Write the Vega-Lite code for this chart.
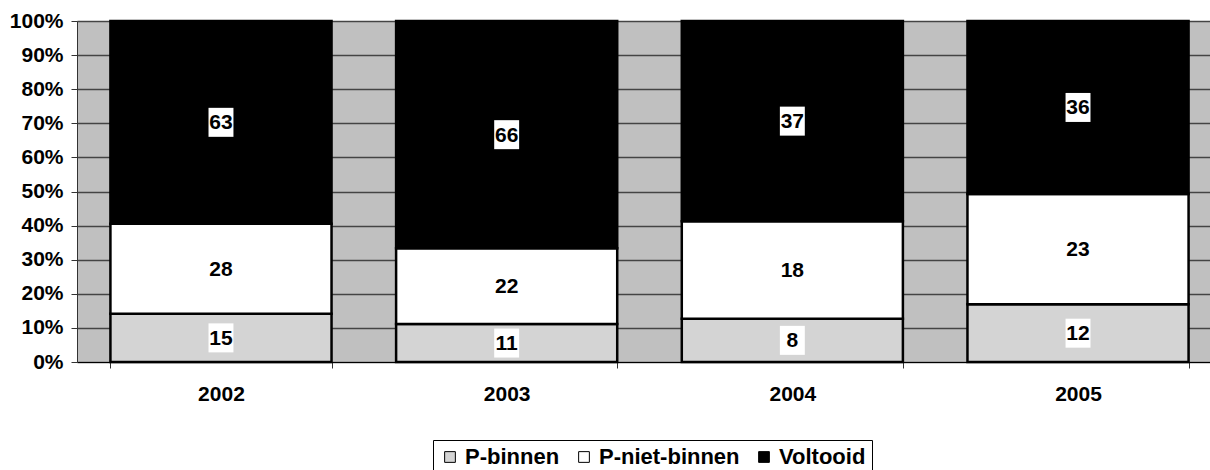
{
  "$schema": "https://vega.github.io/schema/vega-lite/v6.json",
  "autosize": "none",
  "width": 1133,
  "height": 341,
  "padding": {"left": 77, "top": 21, "right": 0, "bottom": 108},
  "background": "white",
  "config": {
    "view": {"fill": "#c0c0c0", "stroke": null},
    "font": "Liberation Sans"
  },
  "data": {
    "values": [
      {"year": "2002", "cat": "P-binnen", "v": 15},
      {"year": "2002", "cat": "P-niet-binnen", "v": 28},
      {"year": "2002", "cat": "Voltooid", "v": 63},
      {"year": "2003", "cat": "P-binnen", "v": 11},
      {"year": "2003", "cat": "P-niet-binnen", "v": 22},
      {"year": "2003", "cat": "Voltooid", "v": 66},
      {"year": "2004", "cat": "P-binnen", "v": 8},
      {"year": "2004", "cat": "P-niet-binnen", "v": 18},
      {"year": "2004", "cat": "Voltooid", "v": 37},
      {"year": "2005", "cat": "P-binnen", "v": 12},
      {"year": "2005", "cat": "P-niet-binnen", "v": 23},
      {"year": "2005", "cat": "Voltooid", "v": 36}
    ]
  },
  "transform": [
    {"stack": "v", "groupby": ["year"], "sort": [{"field": "cat", "order": "ascending"}], "offset": "normalize", "as": ["y0", "y1"]},
    {"calculate": "(datum.y0 + datum.y1) / 2", "as": "mid"}
  ],
  "encoding": {
    "x": {
      "field": "year", "type": "nominal",
      "scale": {"range": [0, 1145], "paddingInner": 0.226, "paddingOuter": 0.117},
      "axis": {"title": null, "labelAngle": 0, "labelFont": "Liberation Sans", "labelFontWeight": "bold", "labelColor": "black", "labelFontSize": 21, "labelPadding": 15, "tickBand": "extent", "tickSize": 6, "tickColor": "#333", "domainColor": "black", "domainWidth": 1, "grid": false}
    },
    "y": {
      "field": "mid", "type": "quantitative",
      "scale": {"domain": [0, 1], "nice": false, "zero": true},
      "axis": {"title": null, "format": ".0%", "values": [0,0.1,0.2,0.3,0.4,0.5,0.6,0.7,0.8,0.9,1], "labelOverlap": false, "labelFont": "Liberation Sans", "labelFontWeight": "bold", "labelColor": "black", "labelFontSize": 21, "labelPadding": 8, "tickSize": 6, "tickColor": "#333", "domainColor": "#333", "grid": true, "gridColor": "#444444", "gridOpacity": 1, "gridWidth": 1.5, "gridDash": [], "zindex": 0}
    }
  },
  "layer": [
    {
      "mark": {"type": "bar", "stroke": "black", "strokeWidth": 2.5},
      "encoding": {
        "y": {"field": "y0", "type": "quantitative"},
        "y2": {"field": "y1"},
        "color": {
          "field": "cat", "type": "nominal",
          "scale": {"domain": ["P-binnen", "P-niet-binnen", "Voltooid"], "range": ["#d4d4d4", "#ffffff", "#000000"]},
          "legend": {
            "title": null, "orient": "none", "legendX": 356, "legendY": 419, "direction": "horizontal",
            "strokeColor": "black", "padding": 6, "symbolType": "square", "symbolSize": 115,
            "symbolStrokeColor": "black", "symbolStrokeWidth": 1, "labelFontSize": 22, "labelFontWeight": "bold",
            "labelFont": "Liberation Sans", "labelColor": "black", "columnPadding": 13, "labelOffset": 4, "symbolOpacity": 1
          }
        }
      }
    },
    {
      "mark": {"type": "point", "shape": "M-0.86,-1H0.86V1H-0.86Z", "filled": true, "fill": "white", "opacity": 1, "size": 841, "strokeWidth": 0},
      "encoding": {}
    },
    {
      "mark": {"type": "text", "fontSize": 21, "fontWeight": "bold", "font": "Liberation Sans", "color": "black", "baseline": "middle", "dy": 1},
      "encoding": {
        "text": {"field": "v", "type": "quantitative"}
      }
    }
  ]
}
